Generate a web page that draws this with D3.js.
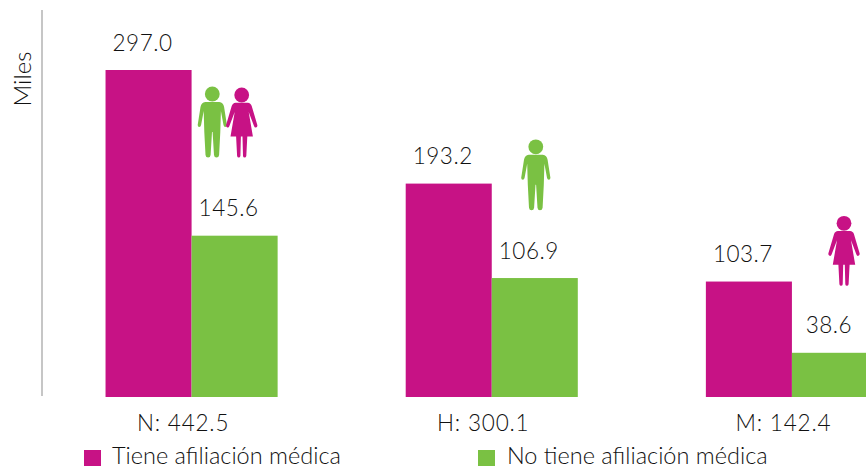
<!DOCTYPE html>
<html><head><meta charset="utf-8">
<script src="https://cdn.jsdelivr.net/npm/d3@7"></script>
<style>html,body{margin:0;padding:0;background:#fff;overflow:hidden}svg{display:block}text{font-family:Lato,sans-serif;font-weight:300;fill:#111}</style>
</head><body><svg id="c" width="866" height="469"></svg>
<script>
const categories = ["N: 442.5", "H: 300.1", "M: 142.4"];
const seriesNames = ["Tiene afiliación médica", "No tiene afiliación médica"];
const tieneAfiliacion = [297.0, 193.2, 103.7];
const noTieneAfiliacion = [145.6, 106.9, 38.6];
const seriesColors = ["#C71285", "#7AC143"];
const axisTitle = "Miles";
const icons = [
  {type: "man", x: 212.3, y: 94},
  {type: "woman", x: 241.7, y: 95},
  {type: "man", x: 535.8, y: 146.8},
  {type: "woman", x: 844, y: 223.3}
];

const svg = d3.select("#c");
const baseY = 397;
const x0 = d3.scaleBand().domain(categories).range([41.5, 942]);
const x1 = d3.scaleBand().domain([0, 1]).range([0, x0.bandwidth()]).paddingInner(0).paddingOuter(0.7442);
const y = d3.scaleLinear().domain([-1.8, 297]).range([baseY, 70]);
const values = [tieneAfiliacion, noTieneAfiliacion];

svg.append("line").attr("x1", 42).attr("x2", 42).attr("y1", 10).attr("y2", 396)
  .attr("stroke", "#b3b3b3").attr("stroke-width", 1.5);
svg.append("text").attr("transform", "translate(31,79) rotate(-90)")
  .attr("text-anchor", "middle").attr("font-size", 24).text(axisTitle);

values.forEach((vals, s) => {
  svg.append("g").selectAll("rect").data(vals).join("rect")
    .attr("x", (d, i) => x0(categories[i]) + x1(s))
    .attr("y", d => y(d))
    .attr("width", x1.bandwidth())
    .attr("height", d => baseY - y(d))
    .attr("fill", seriesColors[s]);
  svg.append("g").selectAll("text").data(vals).join("text")
    .attr("x", (d, i) => x0(categories[i]) + x1(s) + x1.bandwidth() / 2 - 6)
    .attr("y", d => y(d) - 19.5)
    .attr("text-anchor", "middle").attr("font-size", 22.5)
    .attr("letter-spacing", 0.5)
    .text(d => d.toFixed(1));
});

svg.append("g").selectAll("text").data(categories).join("text")
  .attr("x", d => x0(d) + x0.bandwidth() / 2 - 8.5)
  .attr("y", 431).attr("text-anchor", "middle").attr("font-size", 22.5)
  .attr("letter-spacing", 0.8).text(d => d);

const legendX = [84, 478], legendTextX = [112, 507];
seriesNames.forEach((n, i) => {
  svg.append("rect").attr("x", legendX[i]).attr("y", 450).attr("width", 17).attr("height", 16)
    .attr("fill", seriesColors[i]);
  svg.append("text").attr("x", legendTextX[i]).attr("y", 464).attr("font-size", 23.5).text(n);
});

const manPath = "M-7,8 L7,8 Q11,8.5 11.8,13 L14.6,31 Q14.6,33 13,33 Q11.6,33 11.2,31 L8.6,17 L8,38 L6.8,61 Q6.5,63.5 4.2,63.5 Q2,63.5 1.7,61 L0.3,38 L-0.3,38 L-1.7,61 Q-2,63.5 -4.2,63.5 Q-6.5,63.5 -6.8,61 L-8,38 L-8.6,17 L-11.2,31 Q-11.6,33 -13,33 Q-14.6,33 -14.6,31 L-11.8,13 Q-11,8.5 -7,8 Z";
const womanPath = "M-6,7.8 L6,7.8 Q9,8 10,11 L15.6,30 Q16,32 14.4,32.5 Q13,33 12.3,31 L7,17 L11.2,41.5 L5.6,41.5 L4.6,61 Q4.2,62.5 3,62.5 Q1.5,62.5 1.3,61 L0.8,41.5 L-0.8,41.5 L-1.3,61 Q-1.5,62.5 -3,62.5 Q-4.2,62.5 -4.6,61 L-5.6,41.5 L-11.2,41.5 L-7,17 L-12.3,31 Q-13,33 -14.4,32.5 Q-16,32 -15.6,30 L-10,11 Q-9,8 -6,7.8 Z";
const ig = svg.append("g").selectAll("g").data(icons).join("g")
  .attr("transform", d => `translate(${d.x},${d.y})`)
  .attr("fill", d => d.type === "man" ? seriesColors[1] : seriesColors[0]);
ig.append("circle").attr("r", 7.4);
ig.append("path").attr("d", d => d.type === "man" ? manPath : womanPath);
</script></body></html>
